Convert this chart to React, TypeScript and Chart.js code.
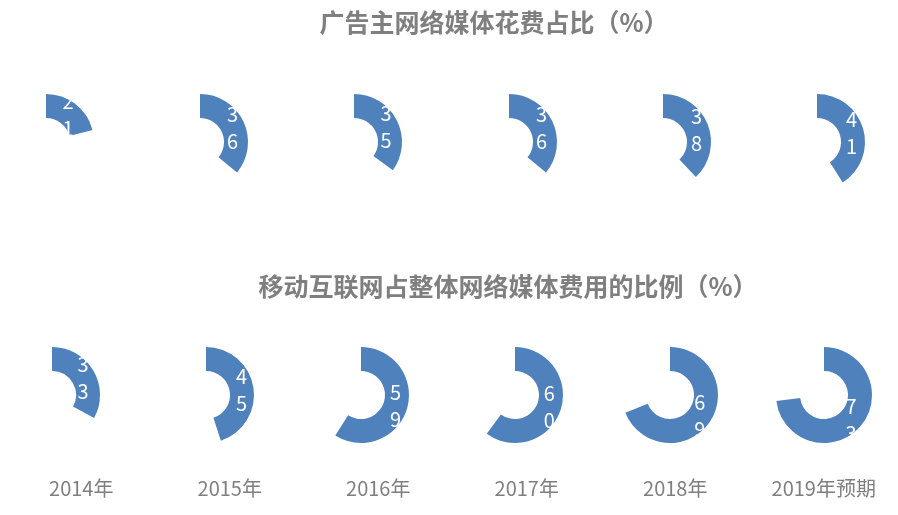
import { useEffect, useRef } from "react"
import { Chart, registerables } from "chart.js"

Chart.register(...registerables)

// data
const years = ["2014年", "2015年", "2016年", "2017年", "2018年", "2019年预期"]
const adSpendShare = [21, 36, 35, 36, 38, 41]
const mobileShare = [33, 45, 59, 60, 69, 73]
const topTitle = "广告主网络媒体花费占比（%）"
const bottomTitle = "移动互联网占整体网络媒体费用的比例（%）"

const BLUE = "#4f81bd"
const GRAY = "#7f7f7f"
const FONT = "'Noto Sans CJK SC', 'Noto Sans', sans-serif"
const SIZE = 120

// the value is written one digit per line, at the middle of the filled arc
const stackedDigits = {
  id: "stackedDigits",
  afterDatasetsDraw(chart: any) {
    const arc: any = chart.getDatasetMeta(0).data[0]
    const value = chart.data.datasets[0].data[0]
    if (!arc) return
    const { x, y } = arc.tooltipPosition()
    const digits = String(value).split("")
    const ctx = chart.ctx
    ctx.save()
    ctx.fillStyle = "#ffffff"
    ctx.font = `20px ${FONT}`
    ctx.textAlign = "center"
    ctx.textBaseline = "middle"
    digits.forEach((d, i) => ctx.fillText(d, x, y + 1 + (i - (digits.length - 1) / 2) * 27))
    ctx.restore()
  }
}

function Ring({ value, cx, cy }: { value: number, cx: number, cy: number }) {
  const ref = useRef<HTMLCanvasElement | null>(null)

  useEffect(() => {
    if (!ref.current) return
    const chart = new Chart(ref.current, {
      type: "doughnut",
      data: {
        labels: ["", ""],
        datasets: [{
          data: [value, 100 - value],
          backgroundColor: [BLUE, "rgba(0,0,0,0)"],
          borderWidth: 0
        }]
      },
      options: {
        responsive: false,
        animation: false,
        events: [],
        radius: 48,
        cutout: "50%",
        layout: { padding: 0 },
        plugins: { legend: { display: false }, tooltip: { enabled: false } }
      } as any,
      plugins: [stackedDigits]
    })
    return () => {
      chart.destroy()
    }
  }, [value])

  return (
    <canvas ref={ref} width={SIZE} height={SIZE}
      style={{ position: "absolute", left: cx - SIZE / 2, top: cy - SIZE / 2, width: SIZE, height: SIZE }} />
  )
}

function YearAxis() {
  const ref = useRef<HTMLCanvasElement | null>(null)

  useEffect(() => {
    if (!ref.current) return
    const chart = new Chart(ref.current, {
      type: "bar",
      data: {
        labels: years,
        datasets: [{ data: years.map(() => null) }]
      },
      options: {
        responsive: false,
        animation: false,
        events: [],
        layout: { padding: { left: 7, right: 0, top: 0, bottom: 12 } },
        plugins: { legend: { display: false }, tooltip: { enabled: false } },
        scales: {
          x: {
            grid: { display: false, drawTicks: false },
            border: { display: false },
            ticks: { color: GRAY, font: { family: FONT, size: 20 }, padding: 3, maxRotation: 0 }
          },
          y: { display: false }
        }
      }
    })
    return () => {
      chart.destroy()
    }
  }, [])

  return (
    <canvas ref={ref} width={898} height={515}
      style={{ position: "absolute", left: 0, top: 0, width: 898, height: 515 }} />
  )
}

const titleStyle = {
  position: "absolute" as const,
  transform: "translateX(-50%)",
  whiteSpace: "nowrap" as const,
  fontFamily: FONT,
  fontWeight: 700,
  fontSize: 25,
  lineHeight: "26px",
  color: GRAY
}

export default function App() {
  return (
    <div style={{ position: "absolute", left: 0, top: 0, width: 898, height: 515, overflow: "hidden", background: "#fff" }}>
      <YearAxis />
      <div style={{ ...titleStyle, left: 494, top: 8 }}>{topTitle}</div>
      <div style={{ ...titleStyle, left: 508, top: 272 }}>{bottomTitle}</div>
      {adSpendShare.map((v, i) => (
        <Ring key={"a" + i} value={v} cx={46 + 154.2 * i} cy={142} />
      ))}
      {mobileShare.map((v, i) => (
        <Ring key={"m" + i} value={v} cx={52 + 154.4 * i} cy={395} />
      ))}
    </div>
  )
}
